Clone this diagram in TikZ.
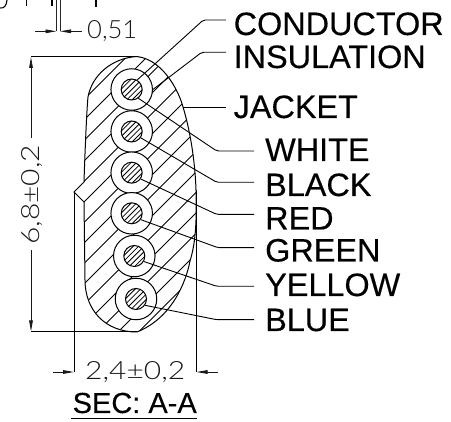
\documentclass[tikz,border=0pt]{standalone}
\usepackage{fontspec}
\usepackage{graphicx}
\setmainfont{Liberation Sans}[FakeBold=0.25]
\newfontfamily\labfont{Liberation Sans}[FakeBold=0.3]
\newfontfamily\cadfont{Lato Light}
\usetikzlibrary{arrows.meta}
\tikzset{
  line/.style={line width=1pt,black},
  thinl/.style={line width=0.8pt,black!85},
  dimarrow/.style={line width=0.85pt,black!90,-{Triangle[length=11pt,width=3.6pt]}},
  hatchl/.style={line width=0.9pt,black},
  lab/.style={anchor=base west,inner sep=0pt,font=\labfont\fontsize{32.4}{32}\selectfont,text=black},
  sec/.style={anchor=base west,inner sep=0pt,font=\labfont\fontsize{29}{29}\selectfont,text=black},
  cad/.style={anchor=base west,inner sep=0pt,text=black!90},
  insul/.style={circle,draw,line width=1pt,fill=white,inner sep=0pt,minimum size=41.5pt},
  condu/.style={circle,draw,line width=1pt,inner sep=0pt,minimum size=21pt},
  leader/.style={line width=0.9pt,black,rounded corners=2pt},
}
\newcommand{\cadtext}[3]{\resizebox{#1pt}{#2pt}{\cadfont #3}}
\begin{document}
\begin{tikzpicture}[x=1pt,y=-1pt]
\useasboundingbox (0,0) rectangle (451,422);
\def\jacketpath{(137,56.5) .. controls (165,60) and (180,95) .. (183,107)
  .. controls (190,130) and (195,160) .. (196,190)
  .. controls (197,225) and (195,245) .. (190,261)
  .. controls (186,282) and (172,318) .. (137,332)
  .. controls (105,332) and (85,310) .. (85,280)
  -- (84,202) -- (74,192) -- (84,182)
  .. controls (85,150) and (87,105) .. (88,97)
  .. controls (92,75) and (112,58) .. (137,56.5) -- cycle}
% hatch of the jacket
\begin{scope}
  \clip \jacketpath;
  \foreach \k in {-6,...,14} {
    \pgfmathsetmacro{\cc}{183.4+20.5*\k}
    \draw[hatchl] (60,\cc-60) -- (220,\cc-220);
  }
\end{scope}
\draw[line] \jacketpath;
% strands
\foreach \i/\px/\py in {1/131.7/89.5,2/131.7/131.5,3/131.7/172.7,4/131.7/213.3,5/134.3/256,6/136/299} {
  \node[insul] (ins\i) at (\px,\py) {};
  \begin{scope}
    \clip (\px,\py) circle (10.5);
    \foreach \d in {-10.8,-8.1,...,11} {
      \draw[line width=0.8pt] (\px-14+\d,\py+14+\d) -- (\px+14+\d,\py-14+\d);
    }
  \end{scope}
  \node[condu] (con\i) at (\px,\py) {};
}
% extension lines of the notch and body
\coordinate (notch) at (74,192);
\coordinate (rightext) at (196.5,190);
\coordinate (dimL) at (74,372);
\coordinate (dimR) at (196.5,372);
\draw[line] (notch) -- (dimL);
\draw[line] (rightext) -- (dimR);
% 6,8 dimension
\coordinate (topext) at (137,56.5);
\coordinate (botext) at (137,332);
\coordinate (htop) at (30.5,56.5);
\coordinate (hbot) at (30.5,332);
\coordinate (hA) at (31,138);
\coordinate (hB) at (31,250);
\draw[line] (topext) -- (htop);
\draw[line] (botext) -- (hbot);
\draw[dimarrow] (hA) -- (31,57);
\draw[dimarrow] (hB) -- (31,331.5);
\node[cad,rotate=90] (hdim) at (39,245) {\cadtext{100}{18}{6,8±0,2}};
% 2,4 dimension
\coordinate (wA) at (53,372);
\coordinate (wB) at (218,372);
\draw[dimarrow] (wA) -- (dimL);
\draw[dimarrow] (wB) -- (dimR);
\node[cad] (wdim) at (85,379.5) {\cadtext{100}{18}{2,4±0,2}};
% 0,51 dimension
\coordinate (tA) at (35,31.3);
\coordinate (tB) at (82,31.3);
\coordinate (tL) at (56.5,31.3);
\coordinate (tR) at (60,31.3);
\coordinate (tLtop) at (56.5,0);
\coordinate (tRtop) at (60,0);
\draw[thinl] (tLtop) -- (tL);
\draw[thinl] (tRtop) -- (tR);
\draw[dimarrow] (tA) -- (tL);
\draw[dimarrow] (tB) -- (tR);
\node[cad] (tdim) at (87,38.5) {\cadtext{50}{18}{0,51}};
% cut-off marks at the top edge
\draw[line width=1.3pt] (26.5,0) -- (26.5,6);
\draw[line width=1.3pt] (52,0) -- (52,6.5);
\draw[line width=1.3pt] (96,0) -- (96,7);
\draw[line width=1.1pt] (0,8) .. controls (4,8.5) and (6.5,6) .. (7,0);
% labels
\node[lab] (conductor) at (233.5,35) {CONDUCTOR};
\node[lab] (insulation) at (233.5,68) {INSULATION};
\node[lab] (jacket) at (233.5,118) {JACKET};
\node[lab] (white) at (265,161) {WHITE};
\node[lab] (black) at (265,196) {BLACK};
\node[lab] (red) at (265,229.5) {RED};
\node[lab] (green) at (265,261.5) {GREEN};
\node[lab] (yellow) at (265,296) {YELLOW};
\node[lab] (blue) at (265,331) {BLUE};
\node[sec] (secaa) at (72.5,413) {SEC: A-A};
\coordinate (ulA) at (71,418.7);
\coordinate (ulB) at (197,418.7);
\draw[line width=1.1pt] (ulA) -- (ulB);
% leaders
\coordinate (e1) at (226,20);
\coordinate (e2) at (226,52.3);
\coordinate (e3) at (226,107);
\coordinate (j3) at (183,107);
\coordinate (ew) at (254,151);
\coordinate (eb) at (254,182.3);
\coordinate (er) at (254,214.4);
\coordinate (eg) at (254,247.7);
\coordinate (ey) at (254,286.3);
\coordinate (eu) at (254,319.7);
\draw[leader] (con1.60) -- (203.3,20) -- (e1);
\draw[leader] (ins1.0) -- (201.7,52.3) -- (e2);
\draw[leader] (j3) -- (e3);
\draw[leader] (con1.-53) -- (216.7,151) -- (ew);
\draw[leader] (con2.-35) -- (216.7,182.3) -- (eb);
\draw[leader] (con3.-35) -- (216.7,214.4) -- (er);
\draw[leader] (con4.-35) -- (218,247.7) -- (eg);
\draw[leader] (con5.-30) -- (216.7,286.3) -- (ey);
\draw[leader] (con6.-35) -- (216.7,319.7) -- (eu);
\end{tikzpicture}
\end{document}
